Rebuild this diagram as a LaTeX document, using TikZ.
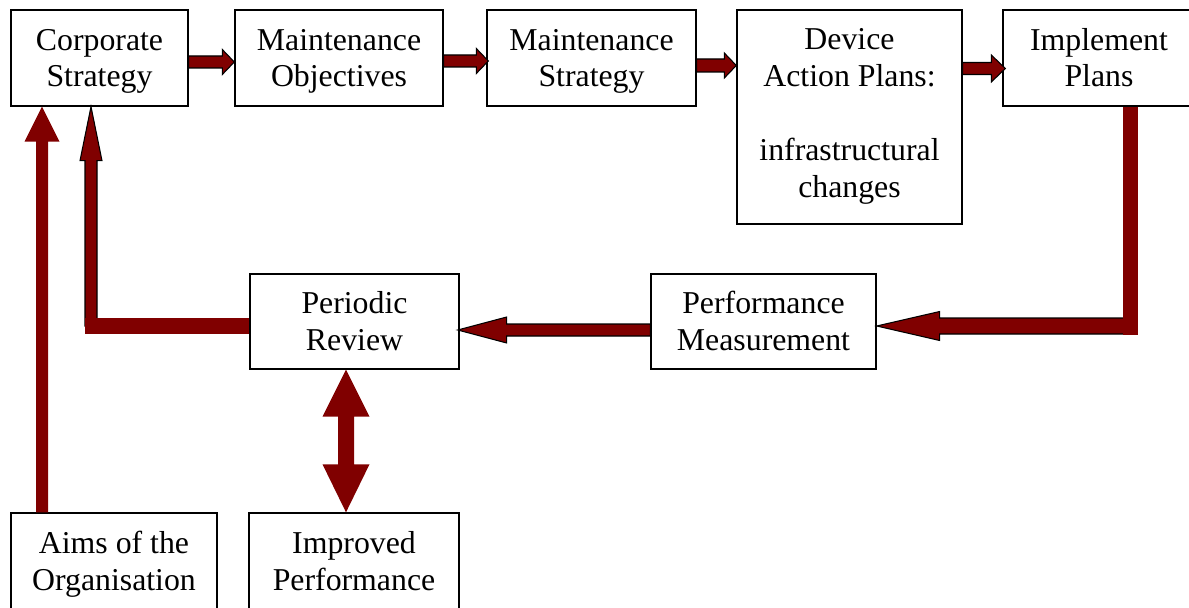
\documentclass[tikz,border=0pt]{standalone}
\usepackage{fontspec}
\setmainfont{Liberation Serif}
\usetikzlibrary{calc}
\definecolor{maroon}{HTML}{800000}

% one drawing unit
\newdimen\pxu \pxu=0.02cm
% fixed height of a first line of text
\newcommand{\topstrut}[1][17.6pt]{\rule{0pt}{#1}}

\tikzset{
  box/.style={draw, line width=0.8pt, align=center, inner sep=0pt,
    font=\fontsize{18.1}{21}\selectfont,
    execute at end node={\rule[-5.7pt]{0pt}{5.7pt}}},
  blockarrow/.style={fill=maroon, draw=black, line width=0.6pt},
  plainarrow/.style={fill=maroon, draw=none},
  bar/.style={draw=maroon, line width=#1}
}

% block arrows: [style]{from}{tip}{half shaft}{half head}{head length}
\newcommand{\harrow}[6][blockarrow]{%
  \draw[#1] let \p1=(#2), \p2=(#3), \n1={sign(\x2-\x1)*#6*\pxu} in
    (\x1,{\y2+#4*\pxu}) -- ({\x2-\n1},{\y2+#4*\pxu})
    -- ({\x2-\n1},{\y2+#5*\pxu}) -- (\x2,\y2)
    -- ({\x2-\n1},{\y2-#5*\pxu}) -- ({\x2-\n1},{\y2-#4*\pxu})
    -- (\x1,{\y2-#4*\pxu}) -- cycle;}
\newcommand{\varrow}[6][blockarrow]{%
  \draw[#1] let \p1=(#2), \p2=(#3), \n1={sign(\y2-\y1)*#6*\pxu} in
    ({\x2+#4*\pxu},\y1) -- ({\x2+#4*\pxu},{\y2-\n1})
    -- ({\x2+#5*\pxu},{\y2-\n1}) -- (\x2,\y2)
    -- ({\x2-#5*\pxu},{\y2-\n1}) -- ({\x2-#4*\pxu},{\y2-\n1})
    -- ({\x2-#4*\pxu},\y1) -- cycle;}

\begin{document}
\begin{tikzpicture}[x=0.02cm, y=-0.02cm]
  \path[use as bounding box, clip] (0,0) rectangle (1189,608);

  % top row
  \node[box, minimum width=3.54cm, minimum height=1.92cm] (corp) at (99.5,58) {\topstrut Corporate\\Strategy};
  \node[box, minimum width=4.16cm, minimum height=1.92cm] (obj) at (339,58) {\topstrut Maintenance\\Objectives};
  \node[box, minimum width=4.18cm, minimum height=1.92cm] (strat) at (591.5,58) {\topstrut Maintenance\\Strategy};
  \node[box, minimum width=4.5cm, minimum height=4.28cm] (plans) at (849.5,117)
    {\topstrut[13pt]Device\\Action Plans:\\[\baselineskip]infrastructural\\changes};
  \node[box, minimum width=3.84cm, minimum height=1.92cm] (impl) at (1099,58) {\topstrut Implement\\Plans};

  % middle row
  \node[box, minimum width=4.18cm, minimum height=1.9cm] (review) at (354.5,321.5) {\topstrut Periodic\\Review};
  \node[box, minimum width=4.5cm, minimum height=1.9cm] (meas) at (763.5,321.5) {\topstrut Performance\\Measurement};

  % bottom row
  \node[box, minimum width=4.12cm, minimum height=1.94cm] (aims) at (114,561.5) {\topstrut Aims of the\\Organisation};
  \node[box, minimum width=4.2cm, minimum height=1.94cm] (improved) at (354,561.5) {\topstrut Improved\\Performance};

  \coordinate (impl turn) at (1130.5,335);
  \coordinate (review turn) at (91,326);

  % arrows along the top
  \harrow{corp.east}{$(obj.west)+(0,4)$}{6}{12.5}{12}
  \harrow{obj.east}{$(strat.west)+(2,3)$}{6}{12.5}{12}
  \harrow{strat.east}{$(plans.west |- strat.east)+(0,7.5)$}{6.5}{12.5}{12}
  \harrow{plans.east |- impl.west}{$(impl.west)+(3,10.5)$}{6}{13.5}{14}

  % loop back through measurement and review
  \harrow{impl turn}{$(meas.east)+(0,4.5)$}{8}{14.5}{63}
  \harrow{meas.west}{$(review.east)+(-2,8.5)$}{6}{13}{49}
  \varrow{review turn}{$(corp.south)+(-8.5,0)$}{6}{11}{54}
  \draw[bar=0.3cm] (impl.south -| impl turn) -- (impl turn);
  \draw[bar=0.32cm] (review.west |- review turn) -- ($(review turn)+(-6,0)$);

  % aims feed the strategy
  \varrow[plainarrow]{$(aims.north)+(-72,0)$}{$(corp.south)+(-57.5,0)$}{6}{17.5}{35}

  % review <-> improved performance
  \path[plainarrow] let \p1=($(review.south)+(-8.5,0)$), \p2=(improved.north) in
    (\x1,\y1) -- ({\x1+23.5*\pxu},{\y1-47*\pxu}) -- ({\x1+8*\pxu},{\y1-47*\pxu})
    -- ({\x1+8*\pxu},{\y2+48*\pxu}) -- ({\x1+23.5*\pxu},{\y2+48*\pxu}) -- (\x1,\y2)
    -- ({\x1-23.5*\pxu},{\y2+48*\pxu}) -- ({\x1-8*\pxu},{\y2+48*\pxu})
    -- ({\x1-8*\pxu},{\y1-47*\pxu}) -- ({\x1-23.5*\pxu},{\y1-47*\pxu}) -- cycle;
\end{tikzpicture}
\end{document}
